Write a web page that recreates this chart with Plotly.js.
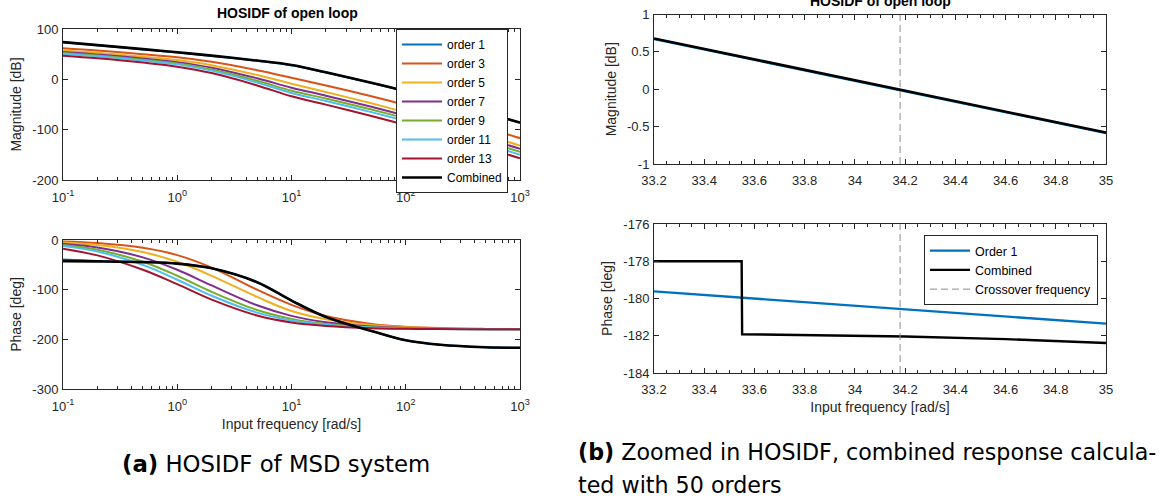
<!DOCTYPE html>
<html><head><meta charset="utf-8">
<script src="https://cdn.plot.ly/plotly-3.0.1.min.js"></script>
<style>html,body{margin:0;padding:0;background:#fff;}#chart{width:1175px;height:497px;}</style>
</head><body><div id="chart"></div>
<script>
// ---------- data ----------
const freq = [0.1, 0.2, 0.5, 1, 2, 5, 10, 20, 50, 100, 200, 500, 1000];
const seriesNames = ['order 1', 'order 3', 'order 5', 'order 7', 'order 9', 'order 11', 'order 13', 'Combined'];

const magOrder1  = [73.5, 67.5, 59.5, 53.2, 46.6, 36.8, 28.0, 13.5, -7.2, -23.8, -41.9, -67.0, -86.5];
const magOrder3  = [61.6, 57.1, 49.9, 43.8, 34.8, 18.1, 3.3, -12.1, -33.6, -51.1, -69.8, -96.1, -116.9];
const magOrder5  = [57.5, 52.8, 45.1, 38.3, 28.0, 8.5, -8.6, -25.1, -47.7, -65.7, -84.5, -110.8, -131.7];
const magOrder7  = [54.3, 49.4, 41.5, 34.2, 23.1, 2.0, -16.6, -32.5, -54.5, -72.3, -91.0, -117.3, -138.1];
const magOrder9  = [52.3, 47.3, 39.1, 31.5, 19.7, -2.8, -22.5, -38.2, -60.0, -77.6, -96.5, -123.0, -143.9];
const magOrder11 = [51.0, 45.9, 37.5, 29.7, 17.3, -6.3, -27.0, -43.0, -65.1, -82.9, -102.0, -128.7, -149.9];
const magOrder13 = [47.0, 41.8, 33.3, 25.2, 12.4, -12.2, -33.7, -50.2, -72.8, -90.8, -109.6, -136.0, -156.9];
const magCombined = [74.0, 68.0, 60.0, 53.7, 47.1, 37.3, 28.5, 14.0, -6.7, -23.3, -41.4, -66.5, -86.0];

const phaseOrder1  = [-39.5, -42.3, -44.5, -47.5, -57, -85, -122, -155, -183, -202, -211, -216, -217];
const phaseOrder3  = [-2.8, -6.0, -15.6, -30.4, -55.5, -100.0, -130.5, -153.0, -169.0, -174.6, -177.4, -179.0, -179.6];
const phaseOrder5  = [-5.0, -10.1, -24.3, -43.9, -72.1, -114.6, -143.0, -159.5, -171.3, -175.7, -177.9, -179.2, -179.6];
const phaseOrder7  = [-7.7, -15.2, -35.0, -60.0, -91.5, -131.5, -152.8, -165.7, -174.3, -177.2, -178.6, -179.5, -179.7];
const phaseOrder9  = [-10.1, -19.7, -43.8, -72.0, -104.4, -141.0, -158.8, -169.1, -175.7, -177.9, -179.0, -179.6, -179.8];
const phaseOrder11 = [-12.0, -23.1, -50.2, -80.0, -112.2, -146.3, -162.0, -170.8, -176.4, -178.2, -179.1, -179.7, -179.8];
const phaseOrder13 = [-17.5, -31.0, -60.0, -89.0, -120.0, -152.0, -166.0, -173.0, -177.5, -178.8, -179.4, -179.7, -179.9];
const phaseCombined = [-42.5, -43, -44.5, -47.5, -57, -85, -122, -155, -183, -202, -211, -216, -217];

// zoomed view
const zoomFreqMag = [33.2, 33.5, 33.8, 34.1, 34.4, 34.7, 35.0];
const zoomMagOrder1 = [0.67, 0.46, 0.25, 0.04, -0.17, -0.38, -0.59];
const zoomMagCombined = [0.68, 0.47, 0.26, 0.05, -0.16, -0.37, -0.58];
const zoomFreqPhase1 = [33.2, 33.6, 34.0, 34.4, 34.8, 35.0];
const zoomPhaseOrder1 = [-179.62, -180.0, -180.39, -180.77, -181.16, -181.35];
const zoomFreqPhaseComb = [33.2, 33.549, 33.551, 33.8, 34.2, 34.6, 35.0];
const zoomPhaseCombined = [-178, -178, -181.92, -181.96, -182.04, -182.18, -182.39];
const crossoverFreq = 34.18;
const zoomLegendNames = ['Order 1', 'Combined', 'Crossover frequency'];

const logTickVals = [0.1, 1, 10, 100, 1000];
const logTickText = ['10<sup>-1</sup>', '10<sup>0</sup>', '10<sup>1</sup>', '10<sup>2</sup>', '10<sup>3</sup>'];
const magTicks = [-200, -100, 0, 100];
const phaseTicks = [-300, -200, -100, 0];
const zoomMagTicks = [-1, -0.5, 0, 0.5, 1];
const zoomPhaseTicks = [-184, -182, -180, -178, -176];
const zoomFreqTicks = [33.2, 33.4, 33.6, 33.8, 34, 34.2, 34.4, 34.6, 34.8, 35];

// ---------- styling ----------
const colors = ['#0072BD', '#D95319', '#EDB120', '#7E2F8E', '#77AC30', '#4DBEEE', '#A2142F', '#000000'];
const FONT = 'Liberation Sans, Arial, Helvetica, sans-serif';
const CAPFONT = 'DejaVu Sans, sans-serif';
const AX = '#262626';
const W = 1175, H = 497;
const px = (a, b) => [a / W, b / W];
const py = (top, bot) => [1 - bot / H, 1 - top / H];

const mags = [magOrder1, magOrder3, magOrder5, magOrder7, magOrder9, magOrder11, magOrder13, magCombined];
const phases = [phaseOrder1, phaseOrder3, phaseOrder5, phaseOrder7, phaseOrder9, phaseOrder11, phaseOrder13, phaseCombined];

const traces = [];
mags.forEach((m, i) => traces.push({
  x: freq, y: m, type: 'scatter', mode: 'lines', name: seriesNames[i],
  line: {color: colors[i], width: i === 7 ? 2.6 : 2, shape: 'spline'},
  xaxis: 'x', yaxis: 'y', legend: 'legend', hoverinfo: 'skip'
}));
phases.forEach((p, i) => traces.push({
  x: freq, y: p, type: 'scatter', mode: 'lines', name: seriesNames[i], showlegend: false,
  line: {color: colors[i], width: i === 7 ? 2.6 : 2, shape: 'spline'},
  xaxis: 'x2', yaxis: 'y2', hoverinfo: 'skip'
}));
traces.push({x: zoomFreqMag, y: zoomMagOrder1, type: 'scatter', mode: 'lines', showlegend: false,
  line: {color: colors[0], width: 2}, xaxis: 'x3', yaxis: 'y3', hoverinfo: 'skip'});
traces.push({x: zoomFreqMag, y: zoomMagCombined, type: 'scatter', mode: 'lines', showlegend: false,
  line: {color: '#000', width: 2.6}, xaxis: 'x3', yaxis: 'y3', hoverinfo: 'skip'});
traces.push({x: [crossoverFreq, crossoverFreq], y: [-1, 1], type: 'scatter', mode: 'lines', showlegend: false,
  line: {color: '#8c8c8c', width: 1, dash: '7px,4px'}, xaxis: 'x3', yaxis: 'y3', hoverinfo: 'skip'});
traces.push({x: zoomFreqPhase1, y: zoomPhaseOrder1, type: 'scatter', mode: 'lines', name: zoomLegendNames[0],
  line: {color: colors[0], width: 2.4}, xaxis: 'x4', yaxis: 'y4', legend: 'legend2', hoverinfo: 'skip'});
traces.push({x: zoomFreqPhaseComb, y: zoomPhaseCombined, type: 'scatter', mode: 'lines', name: zoomLegendNames[1],
  line: {color: '#000', width: 2.4}, xaxis: 'x4', yaxis: 'y4', legend: 'legend2', hoverinfo: 'skip'});
traces.push({x: [crossoverFreq, crossoverFreq], y: [-184, -176], type: 'scatter', mode: 'lines', name: zoomLegendNames[2],
  line: {color: '#8c8c8c', width: 1, dash: '7px,4px'}, xaxis: 'x4', yaxis: 'y4', legend: 'legend2', hoverinfo: 'skip'});

const minorLog = [];
for (let d = -1; d < 3; d++) for (let m = 2; m <= 9; m++) minorLog.push(m * Math.pow(10, d));

const tickFont = {family: FONT, size: 13, color: AX};
const titleFont = {family: FONT, size: 14, color: AX};
const baseAxis = {
  showline: true, linecolor: AX, linewidth: 1, mirror: 'allticks', ticks: 'inside', ticklen: 5,
  tickcolor: AX, tickwidth: 1, showgrid: false, zeroline: false, tickfont: tickFont, fixedrange: true
};
const logX = (dom, anchor) => Object.assign({}, baseAxis, {
  type: 'log', domain: dom, anchor: anchor, range: [-1, 3], tickmode: 'array',
  tickvals: logTickVals, ticktext: logTickText, ticklabelstandoff: 5,
  minor: {tickmode: 'array', tickvals: minorLog, ticks: 'inside', ticklen: 3, tickcolor: AX, tickwidth: 1}
});
const linX = (dom, anchor) => Object.assign({}, baseAxis, {
  domain: dom, anchor: anchor, range: [33.2, 35], tickmode: 'array', tickvals: zoomFreqTicks,
  ticktext: zoomFreqTicks.map(v => String(v)), ticklabelstandoff: 4,
  minor: {dtick: 0.05, tick0: 33.2, ticks: 'inside', ticklen: 3, tickcolor: AX, tickwidth: 1}
});
const linY = (dom, anchor, range, ticks, title) => Object.assign({}, baseAxis, {
  domain: dom, anchor: anchor, range: range, tickmode: 'array', tickvals: ticks,
  ticktext: ticks.map(v => String(v)), ticklabelstandoff: 1,
  title: {text: title, font: titleFont, standoff: 7}
});

const layout = {
  width: W, height: H, margin: {l: 0, r: 0, t: 0, b: 0},
  paper_bgcolor: '#fff', plot_bgcolor: '#fff', font: {family: FONT, color: AX},
  xaxis: logX(px(63, 520), 'y'),
  yaxis: linY(py(29, 180), 'x', [-200, 100], magTicks, 'Magnitude [dB]'),
  xaxis2: Object.assign(logX(px(63, 520), 'y2'), {
    title: {text: 'Input frequency [rad/s]', font: titleFont, standoff: 6}}),
  yaxis2: linY(py(240, 389), 'x2', [-300, 0], phaseTicks, 'Phase [deg]'),
  xaxis3: linX(px(654, 1106), 'y3'),
  yaxis3: linY(py(14.5, 164), 'x3', [-1, 1], zoomMagTicks, 'Magnitude [dB]'),
  xaxis4: Object.assign(linX(px(654, 1106), 'y4'), {
    title: {text: 'Input frequency [rad/s]', font: titleFont, standoff: 6}}),
  yaxis4: linY(py(224, 373), 'x4', [-184, -176], zoomPhaseTicks, 'Phase [deg]'),
  legend: {x: 396 / W, y: 1 - 29 / H, xanchor: 'left', yanchor: 'top', bgcolor: '#fff',
    bordercolor: AX, borderwidth: 1, font: {family: FONT, size: 12, color: '#000'}, itemwidth: 40},
  legend2: {x: 924 / W, y: 1 - 235 / H, xanchor: 'left', yanchor: 'top', bgcolor: '#fff',
    bordercolor: AX, borderwidth: 1, font: {family: FONT, size: 12.5, color: '#000'}, itemwidth: 40},
  annotations: [
    {text: '<b>HOSIDF of open loop</b>', xref: 'paper', yref: 'paper', x: 287 / W, y: 1 - 13 / H,
      xanchor: 'center', yanchor: 'middle', showarrow: false, font: {family: FONT, size: 14, color: '#000'}},
    {text: '<b>HOSIDF of open loop</b>', xref: 'paper', yref: 'paper', x: 880 / W, y: 1 - 1 / H,
      xanchor: 'center', yanchor: 'middle', showarrow: false, font: {family: FONT, size: 14, color: '#000'}},
    {text: '<b>(a)</b> HOSIDF of MSD system', xref: 'paper', yref: 'paper', x: 276 / W, y: 1 - 464 / H,
      xanchor: 'center', yanchor: 'middle', showarrow: false, font: {family: CAPFONT, size: 22.8, color: '#000'}},
    {text: '<b>(b)</b> Zoomed in HOSIDF, combined response calcula-', xref: 'paper', yref: 'paper', x: 576 / W, y: 1 - 452 / H,
      xanchor: 'left', yanchor: 'middle', showarrow: false, font: {family: CAPFONT, size: 22.2, color: '#000'}},
    {text: 'ted with 50 orders', xref: 'paper', yref: 'paper', x: 576 / W, y: 1 - 485 / H,
      xanchor: 'left', yanchor: 'middle', showarrow: false, font: {family: CAPFONT, size: 22.2, color: '#000'}}
  ]
};

Plotly.newPlot('chart', traces, layout, {displayModeBar: false, staticPlot: true});
</script>
</body></html>
